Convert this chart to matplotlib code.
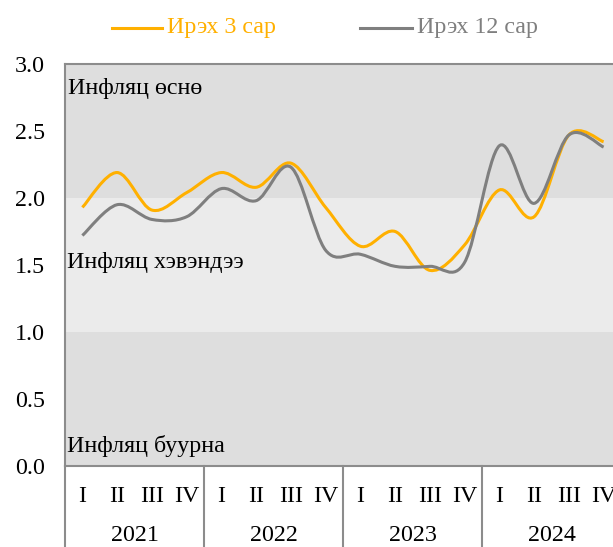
import numpy as np
import matplotlib.pyplot as plt
from matplotlib.path import Path
from matplotlib.patches import PathPatch
import matplotlib.transforms as mtransforms

plt.rcParams['font.family'] = ['Liberation Serif', 'DejaVu Serif']

years = ['2021', '2022', '2023', '2024']
quarters = ['I', 'II', 'III', 'IV']
series_names = ['Ирэх 3 сар', 'Ирэх 12 сар']
next_3m = [1.93, 2.19, 1.91, 2.04, 2.19, 2.08, 2.26, 1.93,
           1.64, 1.75, 1.46, 1.65, 2.06, 1.86, 2.47, 2.42]
next_12m = [1.72, 1.95, 1.84, 1.86, 2.07, 1.98, 2.23, 1.61,
            1.58, 1.49, 1.49, 1.52, 2.39, 1.96, 2.47, 2.38]
bands = [(0, 1, 'Инфляц буурна'), (1, 2, 'Инфляц хэвэндээ'), (2, 3, 'Инфляц өснө')]

orange = '#FFB000'
grey = '#7F7F7F'
fs = 17.3


def smooth_path(y):
    # Excel-style smoothed line: Catmull-Rom segments as cubic Beziers
    x = np.arange(len(y), dtype=float)
    pts = np.column_stack([x, y])
    verts = [pts[0]]
    codes = [Path.MOVETO]
    n = len(pts)
    for i in range(n - 1):
        p0 = pts[max(i - 1, 0)]
        p1 = pts[i]
        p2 = pts[i + 1]
        p3 = pts[min(i + 2, n - 1)]
        verts += [p1 + (p2 - p0) / 6, p2 - (p3 - p1) / 6, p2]
        codes += [Path.CURVE4] * 3
    return Path(verts, codes)


fig = plt.figure(figsize=(6.13, 5.47), dpi=100)
ax = fig.add_axes([65 / 613, 81 / 547, 556 / 613, 402 / 547])

band_cols = ['#DEDEDE', '#EBEBEB', '#DEDEDE']
for (lo, hi, _), c in zip(bands, band_cols):
    ax.axhspan(lo, hi, color=c, lw=0, zorder=0)

for vals, col in [(next_3m, orange), (next_12m, grey)]:
    ax.add_patch(PathPatch(smooth_path(vals), fill=False, edgecolor=col,
                           lw=2.2, zorder=3, capstyle='butt'))

ax.set_xlim(-0.5, 15.5)
ax.set_ylim(0, 3)
ax.set_yticks(np.arange(0, 3.01, 0.5))
ax.set_yticklabels([f'{v:.1f}' for v in np.arange(0, 3.01, 0.5)], fontsize=fs)
ax.tick_params(axis='y', length=0, pad=14.4)
ax.set_xticks([])
for s in ax.spines.values():
    s.set_color('#8C8C8C')
    s.set_linewidth(1.5)

# band labels
ax.text(-0.4, 2.82, bands[2][2], fontsize=fs, va='center', ha='left')
ax.text(-0.45, 1.52, bands[1][2], fontsize=fs, va='center', ha='left')
ax.text(-0.45, 0.15, bands[0][2], fontsize=fs, va='center', ha='left')

# two-level category axis
trans = mtransforms.blended_transform_factory(ax.transData, ax.transAxes)
for g, yr in enumerate(years):
    for q, ql in enumerate(quarters):
        ax.text(g * 4 + q, -0.075, ql, transform=trans, fontsize=fs,
                ha='center', va='center', clip_on=False)
    ax.text(g * 4 + 1.5, -0.172, yr, transform=trans, fontsize=fs,
            ha='center', va='center', clip_on=False)
    ax.plot([g * 4 - 0.5] * 2, [0, -0.3], transform=trans, color='#8C8C8C',
            lw=1.5, clip_on=False)

# legend
fig.lines += [
    plt.Line2D([112 / 613, 162 / 613], [1 - 28 / 547] * 2, color=orange,
               lw=2.2, transform=fig.transFigure),
    plt.Line2D([360 / 613, 412 / 613], [1 - 28 / 547] * 2, color=grey,
               lw=2.2, transform=fig.transFigure),
]
fig.text(167 / 613, 1 - 28 / 547, series_names[0], color=orange, fontsize=fs,
         va='center', ha='left')
fig.text(417 / 613, 1 - 28 / 547, series_names[1], color=grey, fontsize=fs,
         va='center', ha='left')

fig.savefig('out.png', dpi=100)
